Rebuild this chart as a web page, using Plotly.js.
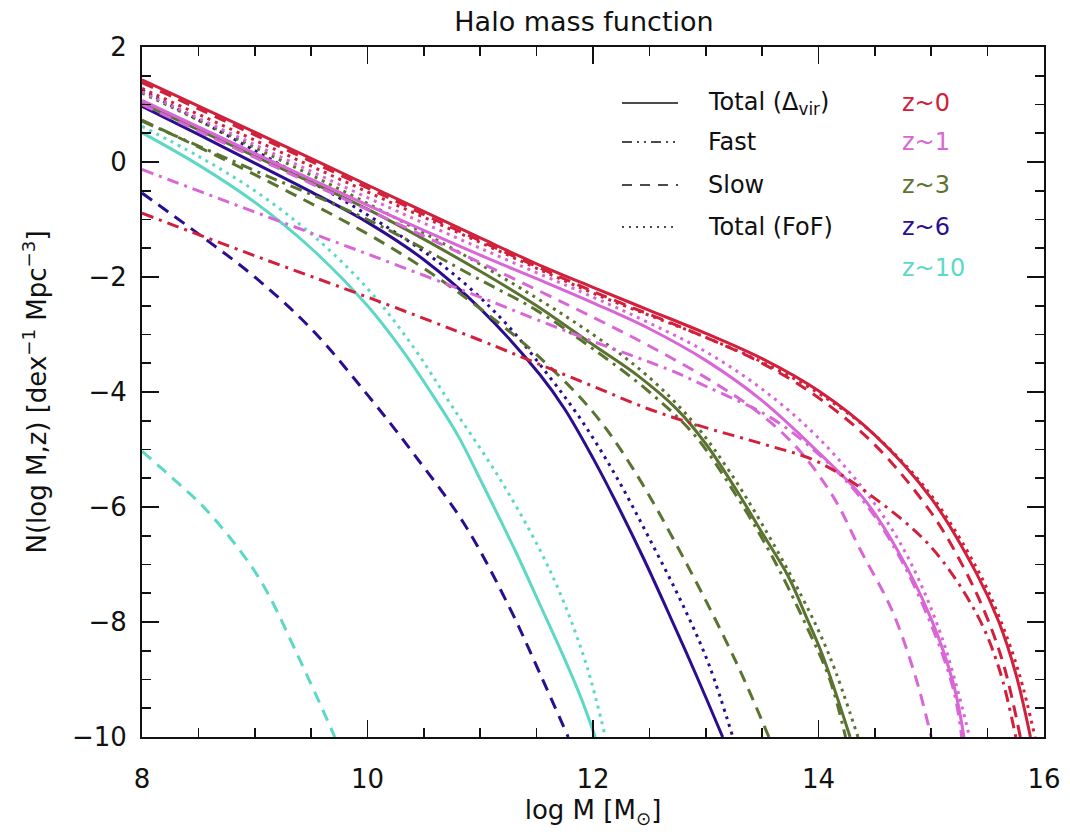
<!DOCTYPE html>
<html>
<head>
<meta charset="utf-8">
<script src="https://cdn.plot.ly/plotly-3.0.1.min.js"></script>
<style>html,body{margin:0;padding:0;background:#fff;}#chart{width:1070px;height:832px;}</style>
</head>
<body>
<div id="chart"></div>
<script>
// ---- Data (log M, log N) ----
const z0_total_x = [8, 9, 10, 11, 11.5, 12, 12.5, 13, 13.5, 14, 14.5, 15, 15.4, 15.6, 15.75, 15.88];
const z0_total_y = [1.43, 0.52, -0.4, -1.32, -1.77, -2.18, -2.58, -2.98, -3.42, -3.98, -4.75, -5.85, -7.15, -8.0, -8.9, -10];
const z0_fof_x = [8, 9, 10, 11, 12, 13, 13.5, 14, 14.5, 15, 15.4, 15.6, 15.78, 15.92];
const z0_fof_y = [1.28, 0.38, -0.52, -1.4, -2.28, -3.05, -3.48, -4.02, -4.75, -5.8, -7.05, -7.9, -8.9, -10];
const z0_slow_x = [8, 9, 10, 11, 12, 13, 13.5, 14, 14.5, 15, 15.3, 15.5, 15.65, 15.79];
const z0_slow_y = [1.38, 0.47, -0.45, -1.37, -2.25, -3.05, -3.5, -4.1, -4.92, -6.1, -7.1, -7.95, -8.8, -10];
const z0_fast_x = [8, 9, 10, 11, 11.5, 12, 12.5, 13, 13.5, 14, 14.5, 15, 15.4, 15.6, 15.75];
const z0_fast_y = [-0.89, -1.63, -2.35, -3.1, -3.5, -3.9, -4.3, -4.62, -4.9, -5.22, -5.85, -6.7, -7.85, -8.8, -10];

const z1_total_x = [8, 9, 10, 11, 11.5, 12, 12.5, 13, 13.5, 14, 14.4, 14.7, 15, 15.2, 15.29];
const z1_total_y = [1.07, 0.15, -0.75, -1.62, -2.03, -2.45, -2.9, -3.45, -4.15, -5.05, -5.85, -6.75, -7.95, -9.1, -10];
const z1_fof_x = [8, 9, 10, 11, 12, 12.5, 13, 13.5, 14, 14.5, 14.8, 15.1, 15.34];
const z1_fof_y = [1.22, 0.3, -0.62, -1.5, -2.35, -2.8, -3.3, -3.95, -4.8, -5.95, -6.9, -8.3, -10];
const z1_slow_x = [8, 9, 10, 11, 12, 12.5, 13, 13.43, 13.8, 14.13, 14.37, 14.65, 14.86, 15.0];
const z1_slow_y = [1.0, 0.08, -0.83, -1.75, -2.7, -3.2, -3.75, -4.3, -4.95, -5.82, -6.74, -7.79, -8.95, -10];
const z1_fast_x = [8, 9, 10, 11, 11.5, 12, 12.66, 13, 13.58, 14.04, 14.4, 14.7, 15.0, 15.2, 15.27];
const z1_fast_y = [-0.13, -0.87, -1.6, -2.35, -2.74, -3.12, -3.6, -3.9, -4.45, -5.15, -5.9, -6.8, -8.05, -9.2, -10];

const z3_total_x = [8, 9, 10, 11, 11.5, 12, 12.4, 12.75, 13.0, 13.27, 13.5, 13.73, 13.9, 14.04, 14.28];
const z3_total_y = [1.02, 0.1, -0.82, -1.9, -2.5, -3.18, -3.72, -4.31, -4.9, -5.7, -6.45, -7.2, -7.95, -8.6, -10];
const z3_fof_x = [8, 9, 10, 11, 12, 12.5, 12.9, 13.2, 13.5, 13.85, 14.1, 14.35];
const z3_fof_y = [1.2, 0.25, -0.72, -1.78, -3.0, -3.75, -4.55, -5.35, -6.3, -7.55, -8.6, -10];
const z3_slow_x = [8, 9, 10, 10.5, 11, 11.5, 12, 12.36, 12.82, 13.27, 13.56];
const z3_slow_y = [0.73, -0.22, -1.25, -1.85, -2.55, -3.35, -4.35, -5.35, -6.95, -8.7, -10];
const z3_fast_x = [8, 9, 10, 11, 11.5, 12, 12.5, 12.9, 13.27, 13.6, 13.9, 14.1, 14.24];
const z3_fast_y = [0.71, -0.15, -1.0, -2.05, -2.58, -3.25, -4.0, -4.75, -5.8, -6.9, -8.1, -9.0, -10];

const z6_total_x = [8, 8.5, 9, 9.5, 10, 10.5, 11, 11.53, 11.75, 12.0, 12.2, 12.45, 12.66, 12.91, 13.15];
const z6_total_y = [0.97, 0.48, -0.02, -0.52, -1.05, -1.7, -2.55, -3.7, -4.3, -5.15, -5.9, -6.9, -7.8, -8.9, -10];
const z6_fof_x = [8, 9, 10, 10.7, 11.2, 11.6, 11.9, 12.2, 12.5, 12.82, 13.03, 13.24];
const z6_fof_y = [1.25, 0.2, -0.92, -1.85, -2.75, -3.7, -4.5, -5.45, -6.55, -7.8, -8.75, -10];
const z6_slow_x = [8, 8.5, 9, 9.5, 10, 10.4, 10.86, 11.26, 11.53, 11.78];
const z6_slow_y = [-0.54, -1.25, -2.0, -2.9, -4.05, -5.05, -6.3, -7.75, -8.9, -10];

const z10_total_x = [8, 8.5, 9, 9.5, 10, 10.3, 10.56, 10.8, 11.02, 11.32, 11.53, 11.75, 11.9, 12.02];
const z10_total_y = [0.51, -0.05, -0.7, -1.5, -2.5, -3.25, -4.0, -4.75, -5.6, -6.8, -7.7, -8.65, -9.35, -10];
const z10_fof_x = [8, 8.5, 9, 9.5, 10, 10.4, 10.75, 11.17, 11.53, 11.75, 11.95, 12.11];
const z10_fof_y = [0.62, 0.1, -0.5, -1.25, -2.2, -3.2, -4.25, -5.5, -6.75, -7.7, -8.8, -10];
const z10_slow_x = [8.0, 8.3, 8.57, 9.03, 9.4, 9.71];
const z10_slow_y = [-5.03, -5.55, -6.05, -7.21, -8.66, -10];

const zLabels = ['z~0', 'z~1', 'z~3', 'z~6', 'z~10'];
const zColors = ['#d0203c', '#d966d6', '#5a7331', '#2b0d8f', '#5ed8c6'];
const styleLabels = ['Total (Δ<sub>vir</sub>)', 'Fast', 'Slow', 'Total (FoF)'];
const xTicks = [8, 10, 12, 14, 16];
const yTicks = [2, 0, -2, -4, -6, -8, -10];

// ---- Styles ----
const DASH = {solid: 'solid', fast: '12px,6px,3px,6px', slow: '12px,8px', fof: '3px,5px'};
const LW = 3;
function tr(x, y, ci, style) {
  return {x: x, y: y, type: 'scatter', mode: 'lines', hoverinfo: 'skip', showlegend: false,
    line: {color: zColors[ci], width: LW, dash: DASH[style], shape: 'spline', smoothing: 1}};
}
const data = [
  tr(z10_slow_x, z10_slow_y, 4, 'slow'),
  tr(z10_fof_x, z10_fof_y, 4, 'fof'),
  tr(z10_total_x, z10_total_y, 4, 'solid'),
  tr(z6_slow_x, z6_slow_y, 3, 'slow'),
  tr(z6_fof_x, z6_fof_y, 3, 'fof'),
  tr(z6_total_x, z6_total_y, 3, 'solid'),
  tr(z3_slow_x, z3_slow_y, 2, 'slow'),
  tr(z3_fast_x, z3_fast_y, 2, 'fast'),
  tr(z3_fof_x, z3_fof_y, 2, 'fof'),
  tr(z3_total_x, z3_total_y, 2, 'solid'),
  tr(z1_slow_x, z1_slow_y, 1, 'slow'),
  tr(z1_fast_x, z1_fast_y, 1, 'fast'),
  tr(z1_fof_x, z1_fof_y, 1, 'fof'),
  tr(z1_total_x, z1_total_y, 1, 'solid'),
  tr(z0_fast_x, z0_fast_y, 0, 'fast'),
  tr(z0_slow_x, z0_slow_y, 0, 'slow'),
  tr(z0_fof_x, z0_fof_y, 0, 'fof'),
  tr(z0_total_x, z0_total_y, 0, 'solid')
];

// ---- Legend (drawn as shapes + annotations in paper coords) ----
const L = 142, R = 1044, T = 47, B = 737;
const px = v => (v - L) / (R - L);
const py = v => (B - v) / (B - T);
const rowY = [103, 142, 185, 227, 268];
const styleKeys = ['solid', 'fast', 'slow', 'fof'];
const legendDash = {solid: 'solid', fast: '10px,5px,2px,5px,2px,5px', slow: '10px,8px', fof: '2px,5px'};
const shapes = styleKeys.map((k, i) => ({
  type: 'line', xref: 'paper', yref: 'paper', x0: px(622), x1: px(678), y0: py(rowY[i]), y1: py(rowY[i]),
  line: {color: '#111', width: 1.6, dash: legendDash[k]}
}));
const FONT = 'DejaVu Sans, sans-serif';
const annotations = [];
styleLabels.forEach((t, i) => annotations.push({
  text: t, xref: 'paper', yref: 'paper', x: px(706), y: py(rowY[i]), xanchor: 'left', yanchor: 'middle',
  showarrow: false, font: {family: FONT, size: 24, color: '#111'}
}));
zLabels.forEach((t, i) => annotations.push({
  text: t, xref: 'paper', yref: 'paper', x: px(900), y: py(rowY[i]), xanchor: 'left', yanchor: 'middle',
  showarrow: false, font: {family: FONT, size: 24, color: zColors[i]}
}));

const axisCommon = {
  showgrid: false, zeroline: false, showline: true, linecolor: '#111', linewidth: 2,
  mirror: 'ticks', ticks: 'inside', ticklen: 17, tickwidth: 1.6, tickcolor: '#111',
  tickfont: {family: FONT, size: 26, color: '#111'},
  minor: {ticks: 'inside', ticklen: 9, tickwidth: 1.6, tickcolor: '#111', dtick: 0.5, showgrid: false}
};

const layout = {
  width: 1070, height: 832,
  margin: {l: L, r: 1070 - R, t: T, b: 832 - B},
  paper_bgcolor: '#fff', plot_bgcolor: '#fff',
  title: {text: 'Halo mass function', font: {family: FONT, size: 27, color: '#111'},
    xref: 'paper', x: 0.49, xanchor: 'center', yref: 'container', y: 1 - 22 / 832, yanchor: 'middle'},
  xaxis: Object.assign({}, axisCommon, {
    range: [8, 16], tickvals: xTicks, ticktext: xTicks.map(String), ticklabelstandoff: 18,
    title: {text: 'log M [M<sub>⊙</sub>]', font: {family: FONT, size: 26, color: '#111'}, standoff: 8}
  }),
  yaxis: Object.assign({}, axisCommon, {
    range: [-10, 2], tickvals: yTicks, ticklabelstandoff: 8,
    title: {text: 'N(log M,z) [dex<sup>−1</sup> Mpc<sup>−3</sup>]', font: {family: FONT, size: 26, color: '#111'}, standoff: 18}
  }),
  shapes: shapes,
  annotations: annotations
};

Plotly.newPlot('chart', data, layout, {staticPlot: true, displayModeBar: false});
</script>
</body>
</html>
